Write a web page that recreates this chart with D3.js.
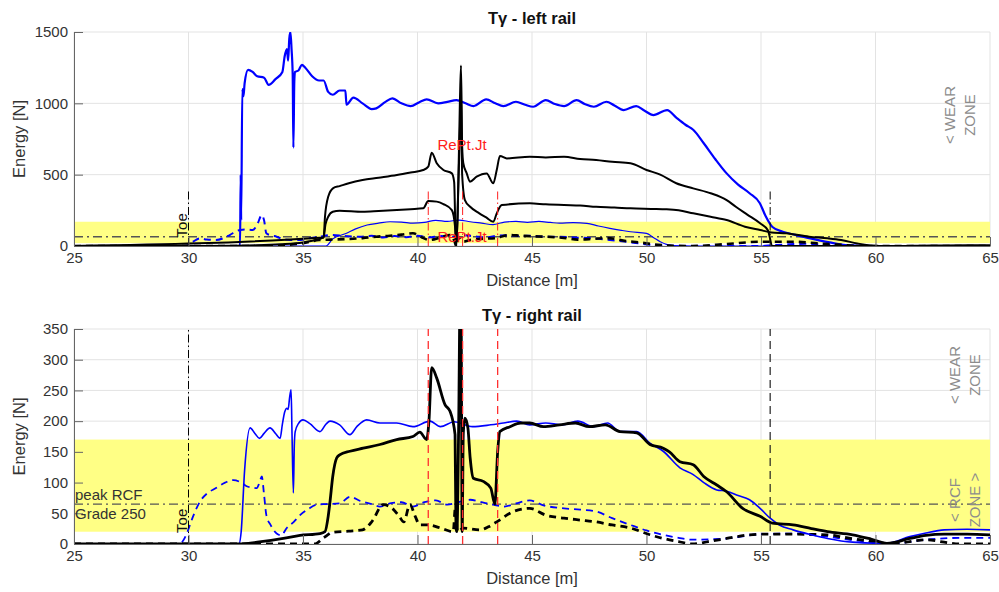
<!DOCTYPE html>
<html><head><meta charset="utf-8">
<script src="https://cdn.jsdelivr.net/npm/d3@7"></script>
<style>
body{margin:0;background:#fff;}
svg{display:block;font-family:"Liberation Sans",Arial,sans-serif;}
</style></head>
<body><svg id="chart" width="999" height="592"></svg>
<script>
// ---------- data ----------
const X_TICKS = [25,30,35,40,45,50,55,60,65];
const LEFT_Y_TICKS = [0,500,1000,1500];
const RIGHT_Y_TICKS = [0,50,100,150,200,250,300,350];
const TITLES = ["T\u03B3 - left rail","T\u03B3 - right rail"];
const RCF_BAND = [20,170];
const PEAK_RCF = 65;
const TOE_X = 30;
const HEEL_X = 55.4;
const JOINT_X = [40.47,41.97,43.5];

// left rail
const leftBlueSolid = [[25,0],[32.2,0],[32.25,0],[32.28,500],[32.3,180],[32.35,1100],[32.4,1050],[32.45,1140],[32.6,1235],[32.8,1220],[33.0,1190],[33.3,1180],[33.5,1130],[33.8,1170],[34.1,1220],[34.2,1330],[34.3,1380],[34.35,1300],[34.4,1450],[34.45,1500],[34.5,1380],[34.55,1200],[34.58,690],[34.62,1150],[34.65,1220],[34.8,1230],[34.95,1270],[35.1,1250],[35.4,1190],[35.7,1160],[35.9,1160],[36.1,1080],[36.3,1060],[36.6,1090],[36.85,1090],[36.9,990],[37.2,1040],[37.6,1000],[38.0,960],[38.2,965],[38.6,1010],[38.9,1035],[39.3,1000],[39.7,980],[40.1,1010],[40.4,1028],[40.9,1000],[41.3,1010],[41.7,1023],[42.1,1000],[42.45,981],[43.0,1028],[43.4,1000],[43.75,981],[44.3,1011],[44.7,990],[45.05,976],[45.6,1023],[46.0,995],[46.4,981],[46.95,1023],[47.3,995],[47.7,976],[48.25,1011],[48.6,985],[49.0,953],[49.55,981],[49.9,950],[50.3,918],[50.9,953],[51.3,900],[51.7,850],[52.05,813],[52.5,720],[53.0,610],[53.5,509],[54.0,430],[54.5,370],[54.95,300],[55.2,210],[55.5,133],[55.95,100],[56.5,78],[57.1,55],[58.0,25],[58.7,7],[59.5,2],[60,0],[65,0]];
const leftBlueThin = [[25,0],[36.0,0],[36.3,50],[36.9,89],[37.3,120],[37.8,147],[38.3,160],[38.8,170],[39.3,168],[39.8,160],[40.3,165],[40.8,180],[41.3,172],[41.8,182],[42.3,170],[42.8,160],[43.3,150],[43.8,168],[44.3,172],[44.8,166],[45.3,172],[45.8,165],[46.2,160],[46.8,164],[47.4,159],[47.9,140],[48.4,124],[48.9,110],[49.3,100],[50.0,89],[50.3,60],[50.6,30],[51.2,2],[52,0],[65,0]];
const leftBlueDash = [[25,0],[29.8,0],[30,7],[30.2,30],[30.5,54],[30.8,45],[31.2,42],[31.6,60],[31.8,77],[32.25,112],[32.5,115],[32.8,112],[33.0,150],[33.2,217],[33.3,180],[33.4,89],[33.6,75],[33.85,65],[34.1,50],[34.43,42],[34.9,42],[35.3,55],[35.7,65],[36.3,77],[36.8,70],[37.5,65],[38,72],[38.5,60],[39,70],[39.5,62],[40,72],[40.5,60],[41,70],[41.5,65],[42,75],[42.5,68],[43,60],[43.5,72],[44,75],[44.5,70],[45,72],[45.5,65],[46.2,65],[46.8,60],[47.7,54],[48.4,42],[49.1,30],[49.7,18],[50.3,7],[51.0,2],[51.5,0],[55.0,0],[55.5,5],[56.2,12],[57.0,15],[58.0,8],[59,3],[60,0],[65,0]];
const leftBlackDash = [[25,0],[33,0],[34,5],[35,19],[35.7,42],[36.2,45],[36.8,48],[37.6,55],[38.2,65],[38.8,72],[39.3,80],[39.8,89],[40.2,60],[40.5,42],[41.0,60],[41.4,77],[41.6,40],[41.7,0],[41.8,60],[42.0,30],[42.3,42],[42.8,50],[43.4,55],[44.0,77],[44.5,72],[45.0,68],[45.6,65],[46.3,58],[47.0,45],[47.7,50],[48.3,55],[49.1,35],[49.7,25],[50.3,12],[51.0,3],[52.0,0],[53.5,14],[55.0,30],[56.4,30],[57.5,18],[58.5,8],[59.3,0],[65,0]];
const leftBlackUpper = [[25,0],[30,0],[32,2],[33,5],[34,12],[35,25],[35.5,40],[35.9,60],[35.96,205],[36.1,345],[36.32,406],[36.6,420],[37.0,440],[37.6,462],[38.3,478],[39.1,497],[39.7,515],[40.25,533],[40.47,556],[40.62,654],[40.84,580],[41.13,533],[41.5,509],[41.6,450],[41.68,0],[41.75,200],[41.85,1000],[41.9,1265],[41.95,700],[42.0,580],[42.15,509],[42.29,451],[42.58,486],[43.02,509],[43.31,439],[43.46,533],[43.6,631],[43.9,614],[44.9,626],[45.6,620],[46.4,626],[47.1,610],[47.8,603],[48.5,590],[49.3,580],[50.0,533],[50.6,500],[51.3,440],[52.04,404],[52.8,370],[53.5,322],[53.9,275],[54.4,220],[54.96,159],[55.3,110],[55.5,0],[65,0]];
const leftBlackLower = [[25,0],[35.9,60],[35.98,150],[36.1,205],[36.3,240],[36.6,247],[37.6,240],[38.3,245],[39.1,252],[39.7,258],[40.25,264],[40.47,315],[40.84,311],[41.13,294],[41.5,252],[41.64,135],[41.7,0],[41.78,400],[41.85,800],[41.9,1100],[41.95,500],[42.07,322],[42.3,275],[42.7,229],[43.0,200],[43.31,170],[43.46,229],[43.68,287],[44.9,299],[45.6,292],[46.4,287],[47.1,284],[47.8,275],[48.6,270],[49.3,264],[50.2,260],[50.88,257],[51.4,250],[52.04,229],[52.8,205],[53.5,182],[54.3,135],[54.96,112],[55.46,95],[56.1,89],[57.1,65],[57.9,54],[58.5,42],[59.2,18],[59.6,7],[60.2,0],[61,0],[62,2],[63,4],[65,5]];

// right rail
const rightBlueSolid = [[25,0],[32.2,0],[32.3,20],[32.45,120],[32.69,189],[32.9,180],[33.1,172],[33.3,180],[33.56,189],[33.8,180],[34.0,172],[34.1,195],[34.2,215],[34.3,221],[34.35,219],[34.42,240],[34.48,251],[34.52,180],[34.58,83],[34.62,160],[34.66,183],[34.8,196],[35.0,202],[35.3,196],[35.74,183],[36.0,195],[36.18,200],[36.6,194],[37.05,178],[37.35,191],[37.78,202],[38.36,197],[39.09,197],[39.8,191],[40.55,200],[41.0,191],[41.6,199],[42.4,191],[43.2,194],[43.75,197],[44.33,200],[44.9,194],[45.6,197],[46.3,194],[47.0,200],[47.7,191],[48.3,197],[48.84,183],[49.57,183],[50.15,164],[50.73,151],[51.46,124],[52.04,113],[52.5,100],[53.07,88],[53.5,86],[54.0,79],[54.5,72],[54.96,58],[55.4,42],[55.8,31],[56.4,23],[57.2,15],[57.9,9],[59.0,3],[60.5,1],[61.5,12],[62.2,18],[63,23],[64,24],[65,23]];
const rightBlackSolid = [[25,0],[32.25,0],[33,3],[34.14,9],[34.87,14],[35.74,17],[35.96,20],[36.1,45],[36.18,69],[36.3,110],[36.47,140],[36.6,145],[37.05,151],[37.63,156],[38.36,162],[39.09,170],[39.8,175],[40.1,182],[40.4,170],[40.5,200],[40.62,287],[40.84,270],[41.2,227],[41.42,216],[41.64,178],[41.68,26],[41.72,20],[41.8,200],[41.86,400],[41.9,400],[41.95,20],[42.0,180],[42.07,205],[42.2,189],[42.3,140],[42.44,107],[42.87,102],[43.2,91],[43.38,65],[43.5,150],[43.6,183],[44.04,191],[44.5,197],[44.9,197],[45.5,191],[46.2,194],[46.9,197],[47.5,191],[48.2,194],[48.84,183],[49.57,181],[50.15,162],[50.73,156],[51.0,150],[51.46,134],[52.04,129],[52.5,110],[53.07,96],[53.5,85],[54.2,58],[54.96,45],[55.5,34],[56.4,31],[57.2,25],[57.9,20],[59.0,15],[59.8,8],[60.5,1],[61.5,9],[62.2,14],[63,16],[64,16],[65,15]];
const rightBlueDash = [[25,0],[29.3,0],[29.7,3],[29.9,15],[30.2,45],[30.5,69],[30.8,82],[31.2,91],[31.6,100],[31.96,104],[32.3,100],[32.54,94],[32.8,92],[32.98,91],[33.1,100],[33.2,110],[33.3,80],[33.4,47],[33.6,30],[33.85,17],[34.05,14],[34.29,26],[34.6,36],[34.87,47],[35.2,56],[35.6,64],[36.0,65],[36.6,66],[37.05,77],[37.5,70],[38.0,65],[38.36,61],[38.8,66],[39.3,68],[39.8,61],[40.3,68],[40.8,71],[41.3,64],[41.8,68],[42.3,72],[42.8,68],[43.3,64],[43.8,61],[44.3,66],[44.9,71],[45.5,63],[46.4,58],[47.1,56],[47.8,53],[48.5,42],[49.3,31],[50.0,22],[50.73,15],[51.4,10],[52,7],[53.5,9],[55,16],[56.4,17],[57.9,12],[59.3,5],[60.8,1],[62.2,7],[63.7,10],[65,10]];
const rightBlackDash = [[25,0],[35.5,0],[35.9,10],[36.3,19],[37.0,21],[37.6,23],[38.0,36],[38.5,64],[38.9,58],[39.2,45],[39.4,36],[39.67,64],[39.9,45],[40.1,31],[40.5,31],[41.0,26],[41.56,20],[41.65,58],[41.75,20],[42.0,26],[42.73,23],[43.1,28],[43.46,36],[44.2,53],[44.9,58],[45.6,47],[46.4,42],[47.1,39],[47.8,36],[48.5,31],[49.3,26],[50.15,15],[50.73,9],[51.4,4],[52,0],[52.7,4],[53.5,9],[54.3,14],[55,16],[56.4,16],[57.9,15],[58.6,11],[59.3,7],[60,3],[60.8,0],[61.5,4],[62.2,7],[63,3],[63.7,0],[65,0]];

// ---------- drawing ----------
const svg = d3.select("#chart");
const FONT = '"Liberation Sans",Arial,sans-serif';

function panel(cfg){
  const x = d3.scaleLinear().domain([25,65]).range([74,990]);
  const y = d3.scaleLinear().domain([0,cfg.ymax]).range([cfg.bottom,cfg.top]);
  const g = svg.append("g");
  const clipId = "clip"+cfg.id;
  svg.append("clipPath").attr("id",clipId).append("rect")
    .attr("x",74).attr("y",cfg.top).attr("width",916).attr("height",cfg.bottom-cfg.top);

  g.append("g").selectAll("line").data(X_TICKS).join("line")
    .attr("x1",d=>x(d)).attr("x2",d=>x(d)).attr("y1",cfg.top).attr("y2",cfg.bottom)
    .attr("stroke","#e3e3e3").attr("stroke-width",1);
  g.append("g").selectAll("line").data(cfg.yticks).join("line")
    .attr("y1",d=>y(d)).attr("y2",d=>y(d)).attr("x1",74).attr("x2",990)
    .attr("stroke","#e3e3e3").attr("stroke-width",1);

  g.append("rect").attr("x",x(25)).attr("width",x(65)-x(25))
    .attr("y",y(RCF_BAND[1])).attr("height",y(RCF_BAND[0])-y(RCF_BAND[1]))
    .attr("fill","#ffff85");

  g.append("line").attr("x1",x(25)).attr("x2",x(65)).attr("y1",y(PEAK_RCF)).attr("y2",y(PEAK_RCF))
    .attr("stroke","#555").attr("stroke-width",1.3).attr("stroke-dasharray","9,4,2,4");

  const line = d3.line().curve(d3.curveMonotoneX).x(d=>x(d[0])).y(d=>y(d[1]));
  const cg = g.append("g").attr("clip-path",`url(#${clipId})`);
  cfg.series.forEach(s=>{
    cg.append("path").datum(s.data).attr("d",line).attr("fill","none")
      .attr("stroke",s.color).attr("stroke-width",s.w)
      .attr("stroke-dasharray",s.dash||null).attr("stroke-linejoin","round");
  });

  cfg.vlines.forEach(v=>{
    cg.append("line").attr("x1",x(v.x)).attr("x2",x(v.x)).attr("y1",y(v.y0)).attr("y2",y(v.y1))
      .attr("stroke",v.color).attr("stroke-width",v.w).attr("stroke-dasharray",v.dash);
  });

  const ax = g.append("g").attr("transform",`translate(0,${cfg.bottom})`)
    .call(d3.axisBottom(x).tickValues(X_TICKS).tickFormat(d3.format("d")).tickSizeInner(-9).tickSizeOuter(0).tickPadding(6));
  const ay = g.append("g").attr("transform",`translate(74,0)`)
    .call(d3.axisLeft(y).tickValues(cfg.yticks).tickFormat(d3.format("d")).tickSizeInner(-9).tickSizeOuter(0).tickPadding(6));
  [ax,ay].forEach(a=>{
    a.select(".domain").attr("stroke","#666").attr("stroke-width",1);
    a.selectAll(".tick line").attr("stroke","#666");
    a.selectAll("text").attr("fill","#333").style("font-size","15px").style("font-family",FONT);
  });

  g.append("text").attr("x",532).attr("y",cfg.top-8).attr("text-anchor","middle")
    .style("font-size","16.5px").style("font-weight","bold").attr("fill","#111").text(cfg.title);
  g.append("text").attr("x",532).attr("y",cfg.bottom+40).attr("text-anchor","middle")
    .style("font-size","16.5px").attr("fill","#333").text("Distance [m]");
  g.append("text").attr("transform",`translate(25,${(cfg.top+cfg.bottom)/2}) rotate(-90)`)
    .attr("text-anchor","middle").style("font-size","16.5px").attr("fill","#333").text("Energy [N]");

  g.append("text").attr("transform",`translate(${x(TOE_X)-2},${y(cfg.toeY)}) rotate(-90)`)
    .style("font-size","15px").attr("fill","#111").text("Toe");

  cfg.texts.forEach(t=>{
    const el = g.append("text").attr("fill",t.color).style("font-size","15px")
      .attr("text-anchor",t.anchor||"start");
    if(t.rot){
      el.attr("transform",`translate(${t.px},${t.py}) rotate(-90)`);
      t.lines.forEach((ln,i)=>el.append("tspan").attr("x",0).attr("dy",i===0?0:20).text(ln));
    } else {
      el.attr("x",t.px).attr("y",t.py).text(t.lines[0]);
    }
  });
}

panel({
  id:"L", top:32, bottom:246, ymax:1500, yticks:LEFT_Y_TICKS, title:TITLES[0], toeY:60,
  series:[
    {data:leftBlueSolid,color:"#0000ff",w:2.2},
    {data:leftBlueThin,color:"#0000ff",w:1.2},
    {data:leftBlueDash,color:"#0000ff",w:2,dash:"7,5"},
    {data:leftBlackDash,color:"#000",w:2.6,dash:"7,5"},
    {data:leftBlackLower,color:"#000",w:2},
    {data:leftBlackUpper,color:"#000",w:2}
  ],
  vlines:[
    {x:TOE_X,y0:0,y1:400,color:"#000",w:1,dash:"8,3,1.5,3"},
    {x:HEEL_X,y0:0,y1:400,color:"#000",w:1,dash:"8,3,1.5,3"},
    ...JOINT_X.map(v=>({x:v,y0:0,y1:400,color:"#ff2020",w:1,dash:"8,3,1.5,3"}))
  ],
  texts:[
    {px:462,py:150,lines:["RePt.Jt"],color:"#ff2020",anchor:"middle"},
    {px:462,py:242,lines:["RePt.Jt"],color:"#ff2020",anchor:"middle"},
    {px:955,py:115,lines:["< WEAR","ZONE"],color:"#8c8c8c",anchor:"middle",rot:true}
  ]
});

panel({
  id:"R", top:329, bottom:544, ymax:350, yticks:RIGHT_Y_TICKS, title:TITLES[1], toeY:18,
  series:[
    {data:rightBlueDash,color:"#0000ff",w:1.8,dash:"7,5"},
    {data:rightBlackDash,color:"#000",w:2.8,dash:"7,5"},
    {data:rightBlueSolid,color:"#0000ff",w:1.6},
    {data:rightBlackSolid,color:"#000",w:2.8}
  ],
  vlines:[
    {x:TOE_X,y0:0,y1:350,color:"#000",w:1,dash:"8,3,1.5,3"},
    {x:HEEL_X,y0:0,y1:350,color:"#222",w:1.2,dash:"8,5"},
    ...JOINT_X.map(v=>({x:v,y0:0,y1:350,color:"#ff3030",w:1.3,dash:"8,5"}))
  ],
  texts:[
    {px:75,py:500,lines:["peak RCF"],color:"#333"},
    {px:75,py:519,lines:["Grade 250"],color:"#333"},
    {px:960,py:375,lines:["< WEAR","ZONE"],color:"#8c8c8c",anchor:"middle",rot:true},
    {px:960,py:500,lines:["< RCF","ZONE >"],color:"#8c8c8c",anchor:"middle",rot:true}
  ]
});
</script></body></html>
